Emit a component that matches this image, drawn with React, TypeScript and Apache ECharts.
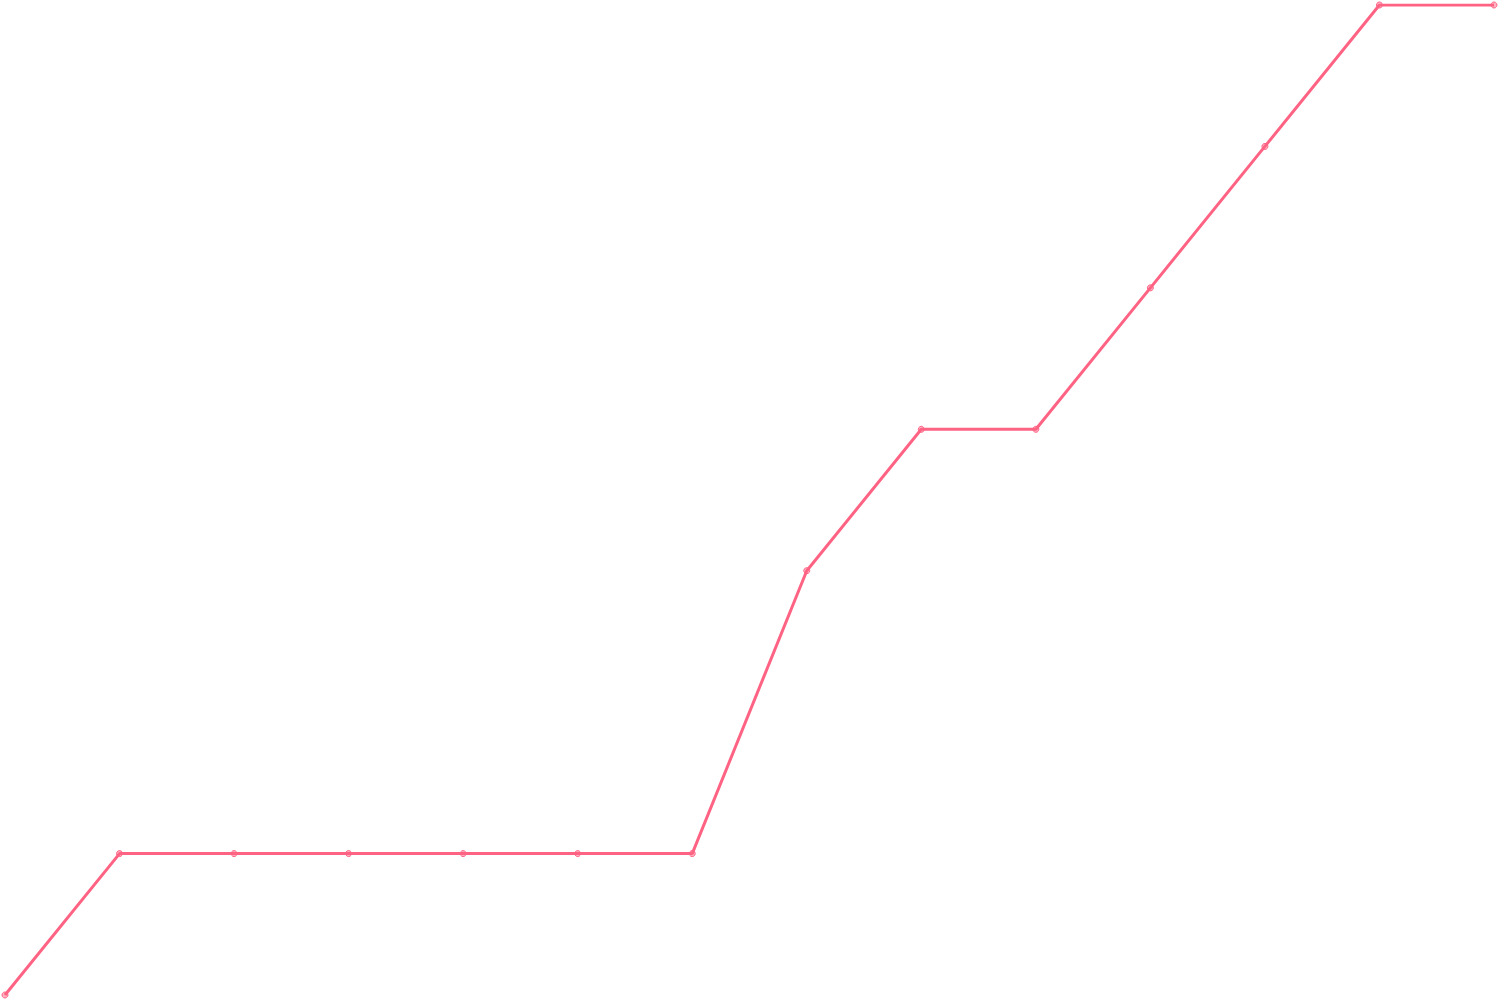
import { useEffect, useRef } from 'react'
import * as echarts from 'echarts'

const categories = ['1', '2', '3', '4', '5', '6', '7', '8', '9', '10', '11', '12', '13', '14']
const values = [0, 1, 1, 1, 1, 1, 1, 3, 4, 4, 5, 6, 7, 7]

export default function App() {
  const ref = useRef<HTMLDivElement>(null)

  useEffect(() => {
    if (!ref.current) {
      return
    }
    const chart = echarts.init(ref.current, undefined, { renderer: 'svg' })
    chart.setOption({
      animation: false,
      grid: { left: 5, right: 6, top: 5, bottom: 5 },
      xAxis: { type: 'category', data: categories, boundaryGap: false, show: false },
      yAxis: { type: 'value', min: 0, max: 7, show: false },
      series: [
        {
          type: 'line',
          data: values,
          symbol: 'circle',
          symbolSize: 6,
          lineStyle: { color: '#ff6384', width: 3 },
          itemStyle: { color: 'rgba(255,99,132,0.5)', borderColor: '#ff6384', borderWidth: 1 },
        },
      ],
    })
    return () => chart.dispose()
  }, [])

  return (
    <div
      ref={ref}
      style={{ position: 'fixed', left: 0, top: 0, width: 1500, height: 1000, background: '#fff' }}
    />
  )
}
